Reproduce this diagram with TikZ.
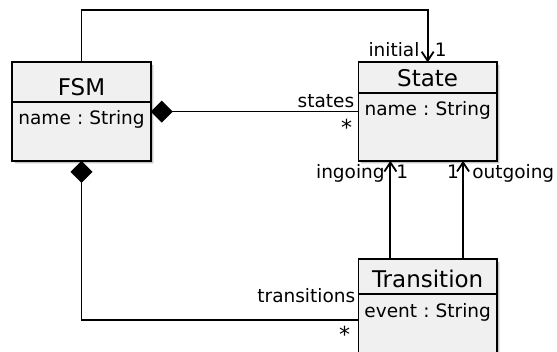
\documentclass[tikz,border=0pt]{standalone}
\usepackage{fontspec}
\setmainfont{DejaVu Sans}
\usetikzlibrary{positioning,shapes,shadows,arrows.meta}
\definecolor{clsfill}{RGB}{240,240,240}
\newcommand{\clsname}[1]{{\fontsize{23}{26}\selectfont #1}}

\begin{document}
\begin{tikzpicture}[x=1pt,y=1pt,
  cls/.style={rectangle split,rectangle split parts=2,draw,line width=1.8pt,fill=clsfill,
    text width=130.5pt,inner xsep=4pt,inner ysep=0pt,outer sep=0pt,align=center,anchor=north west,
    font=\fontsize{18.5}{22}\selectfont\frenchspacing,
    drop shadow={shadow xshift=2.5pt,shadow yshift=-2.5pt,fill=black!45}},
  rel/.style={line width=1.8pt},
  comp/.style={rel,{Diamond[length=22pt,width=22pt]}-},
  nav/.style={rel,-{Straight Barb[length=9pt,width=12pt]}},
  lbl/.style={font=\fontsize{18.5}{22}\selectfont,inner sep=0pt},
  mul/.style={font=\fontsize{22}{24}\selectfont,inner sep=0pt}]
\useasboundingbox (0,0) rectangle (557,352);
\node[cls] (fsm) at (12.3,289.7) {\rule[-6pt]{0pt}{38pt}\clsname{FSM}
  \nodepart{two}\raggedright\rule[-35pt]{0pt}{57pt}name : String};
\node[cls] (state) at ([xshift=207.6pt]fsm.north east) {\rule[-5.5pt]{0pt}{29pt}\clsname{State}
  \nodepart{two}\raggedright\rule[-44pt]{0pt}{66pt}name : String};
\node[cls] (trans) at ([yshift=-98.5pt]state.south west) {\rule[-6pt]{0pt}{33.2pt}\clsname{Transition}
  \nodepart{two}\raggedright\rule[-39.8pt]{0pt}{61.8pt}event : String};
% initial
\draw[nav] (fsm.north) -- ++(0,52.3) -| (state.north);
\node[lbl,anchor=base east] (ini) at ([xshift=-8pt,yshift=5.6pt]state.north) {initial};
\node[lbl,anchor=base west] (inimul) at ([xshift=7pt,yshift=5.6pt]state.north) {1};
% states
\draw[comp] (fsm.east) -- (state.west);
\node[lbl,anchor=base east] (sts) at ([xshift=-4pt,yshift=4.5pt]state.west) {states};
\node[mul,anchor=north east] (stsmul) at ([xshift=-6pt,yshift=-7.5pt]state.west) {*};
% transitions
\draw[comp] (fsm.south) |- ([yshift=-11pt]trans.west);
\node[lbl,anchor=base east] (trs) at ([xshift=-3pt,yshift=6pt]trans.west) {transitions};
\node[mul,anchor=north east] (trsmul) at ([xshift=-8pt,yshift=-17.5pt]trans.west) {*};
% ingoing / outgoing
\draw[nav] ([xshift=-37.3pt]trans.north) -- ([xshift=-37.3pt]state.south);
\node[lbl,anchor=base east] (ing) at ([xshift=-42.8pt,yshift=-17.7pt]state.south) {ingoing};
\node[lbl,anchor=base west] (ingmul) at ([xshift=-31.5pt,yshift=-17.7pt]state.south) {1};
\draw[nav] ([xshift=35.4pt]trans.north) -- ([xshift=35.4pt]state.south);
\node[lbl,anchor=base east] (outmul) at ([xshift=31.5pt,yshift=-17.7pt]state.south) {1};
\node[lbl,anchor=base west] (outg) at ([xshift=44.4pt,yshift=-17.7pt]state.south) {outgoing};
\end{tikzpicture}
\end{document}
